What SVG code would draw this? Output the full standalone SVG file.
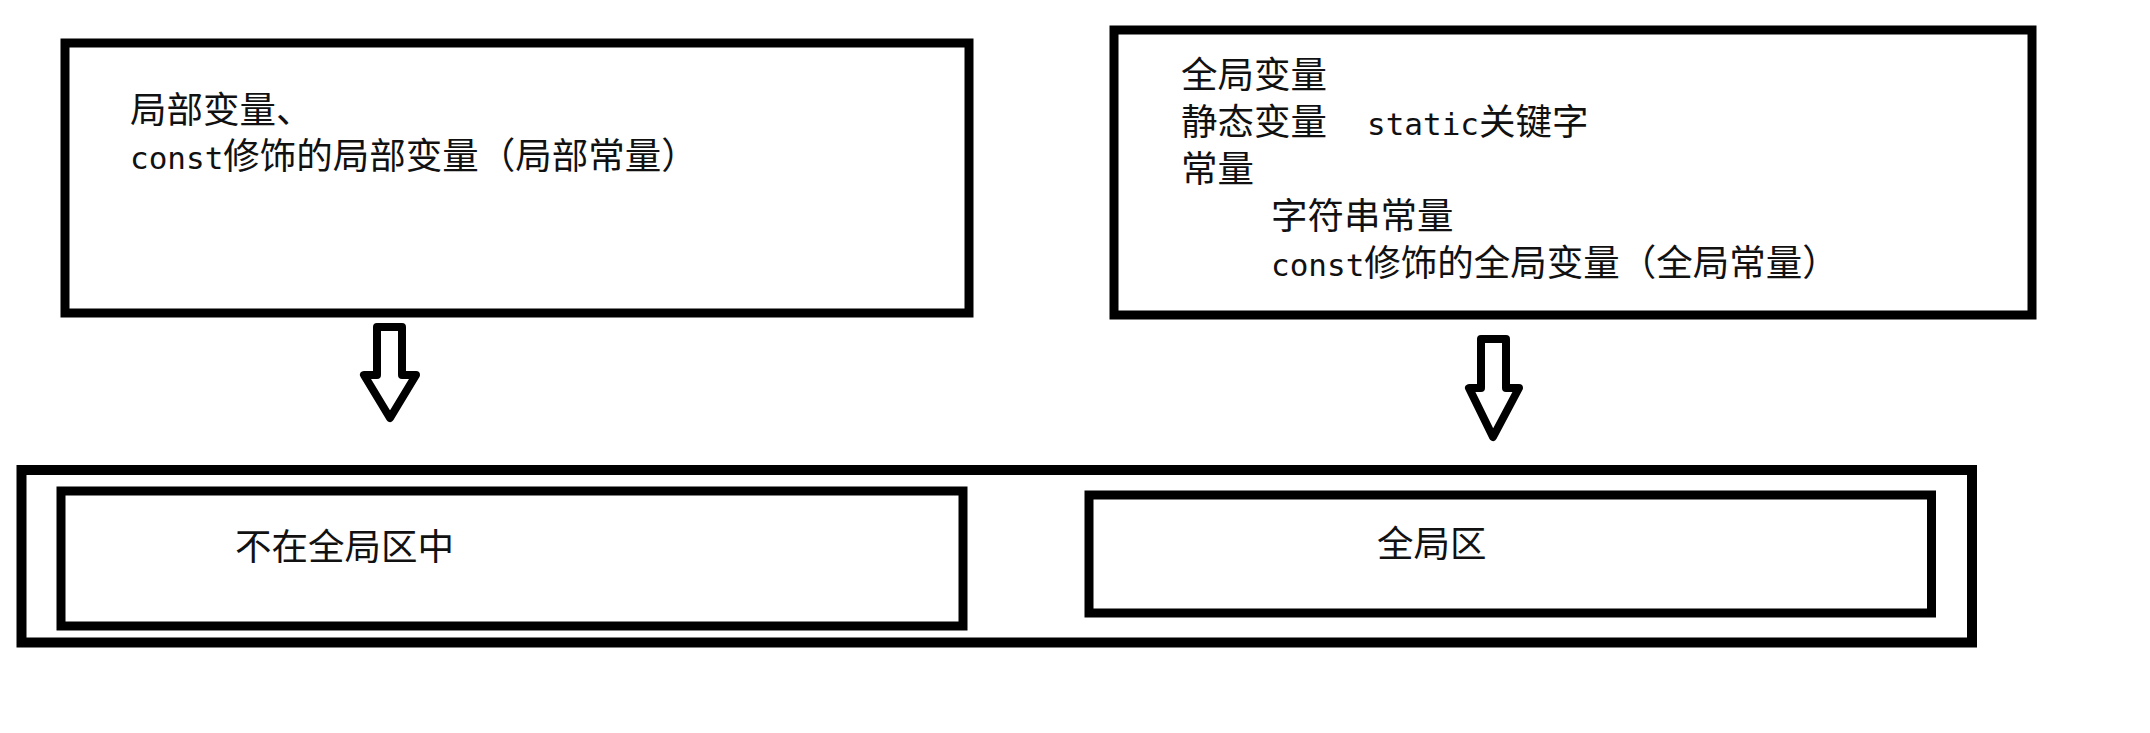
<svg xmlns="http://www.w3.org/2000/svg" width="2150" height="733" viewBox="0 0 2150 733">
<style>
.box{fill:none;stroke:#000;stroke-width:9}
.outer{fill:none;stroke:#000;stroke-width:10}
.t{font-family:"Noto Sans CJK SC","Noto Sans",sans-serif;font-size:36.5px;fill:#111}
.m{font-family:"DejaVu Sans Mono","Liberation Mono",monospace;font-size:31px}
.arrow{fill:#fff;stroke:#000;stroke-width:8;stroke-linejoin:round}
</style>
<rect width="2150" height="733" fill="#fff"/>
<g id="box-local">
<rect class="box" x="65" y="43" width="904" height="270"/>
<text class="t" x="130" y="123">局部变量、</text>
<text class="t" x="130" y="169"><tspan class="m">const</tspan>修饰的局部变量（局部常量）</text>
</g>
<g id="box-global">
<rect class="box" x="1114" y="30" width="918" height="285"/>
<text class="t" x="1181" y="88">全局变量</text>
<text class="t" x="1181" y="135">静态变量<tspan class="m" x="1367">static</tspan>关键字</text>
<text class="t" x="1181" y="182">常量</text>
<text class="t" x="1271" y="229">字符串常量</text>
<text class="t" x="1271" y="276"><tspan class="m">const</tspan>修饰的全局变量（全局常量）</text>
</g>
<g id="memory">
<rect class="outer" x="21.5" y="470" width="1950.5" height="172.5"/>
</g>
<g id="region-nonglobal">
<rect class="box" x="61" y="491" width="902" height="135"/>
<text class="t" x="235" y="560">不在全局区中</text>
</g>
<g id="region-global">
<rect class="box" x="1089" y="495" width="842.5" height="118"/>
<text class="t" x="1377" y="557">全局区</text>
</g>
<g id="connectors">
<path class="arrow" d="M377 327 H402 V375 H416 L390 418 L364 375 H377 Z"/>
<path class="arrow" d="M1481 339 H1506 V388 H1519 L1493 437 L1469 388 H1481 Z"/>
</g>
</svg>
